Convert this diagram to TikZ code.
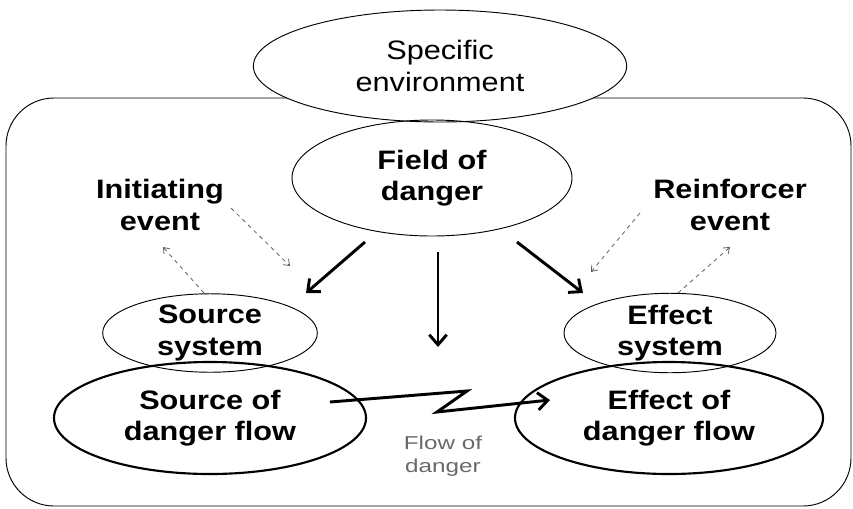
\documentclass[tikz,border=0pt]{standalone}
\usepackage{fontspec}
\setmainfont{Liberation Sans}[FakeStretch=1.15]
\newfontfamily\flowfont{Liberation Sans}[FakeStretch=1.3]
\usetikzlibrary{shapes.geometric, arrows.meta}
\definecolor{dgray}{RGB}{95,95,95}
\definecolor{lgray}{RGB}{105,105,105}

\begin{document}
\begin{tikzpicture}[x=0.75pt,y=-0.75pt,
  font=\fontsize{20}{24}\selectfont,
  env/.style={draw,ellipse,line width=0.7pt,fill=white,inner sep=0pt,align=center},
  sys/.style={draw,ellipse,line width=0.7pt,inner sep=0pt,align=center,
              font=\fontsize{20}{23.5}\selectfont\bfseries},
  flw/.style={draw,ellipse,line width=1.6pt,inner sep=0pt,align=center,
              font=\fontsize{20}{23.5}\selectfont\bfseries},
  evt/.style={align=center,font=\fontsize{20}{24.5}\selectfont\bfseries},
  bigarr/.style={-{Straight Barb[length=7.5pt,width=13pt]},line width=2.2pt},
  dsh/.style={-{Straight Barb[length=4pt,width=6pt]},dashed,line width=0.6pt,color=dgray}
]
  \useasboundingbox (0,0) rectangle (853,508);
  \draw[line width=0.7pt,rounded corners=36pt] (6,98) rectangle (851,506);

  \node[env,minimum width=280pt,minimum height=84pt] (env) at (440,66) {Specific\\environment};
  \node[sys,minimum width=210pt,minimum height=87pt] (field) at (432,178) {Field of\\danger};

  \node[sys,minimum width=161pt,minimum height=56pt] (srcsys) at (210,333) {Source\\system};
  \node[flw,minimum width=234pt,minimum height=84pt] (srcflow) at (210,418) {Source of\\danger flow};
  \node[sys,minimum width=159pt,minimum height=56pt] (effsys) at (670,333) {Effect\\system};
  \node[flw,minimum width=231pt,minimum height=84pt] (effflow) at (669,418) {Effect of\\danger flow};

  \node[evt] (init) at (160,205) {Initiating\\event};
  \node[evt] (reinf) at (730,205) {Reinforcer\\event};
  \node[align=center,color=lgray,font=\flowfont\fontsize{14}{17}\selectfont] (flowlbl) at (443,456) {Flow of\\danger};

  % arrow ends
  \coordinate (l1) at (365,242); \coordinate (l2) at (306,293);
  \coordinate (m1) at (438,252); \coordinate (m2) at (438,347);
  \coordinate (r1) at (517,242); \coordinate (r2) at (583,293);
  \foreach \a/\b in {l1/l2,m1/m2,r1/r2}
    \draw[bigarr] (\a)--(\b);

  \coordinate (d1) at (204,293); \coordinate (d2) at (163,247);
  \coordinate (d3) at (231,208); \coordinate (d4) at (290,266);
  \coordinate (d5) at (640,213); \coordinate (d6) at (591,272);
  \coordinate (d7) at (678,293); \coordinate (d8) at (730,247);
  \foreach \a/\b in {d1/d2,d3/d4,d5/d6,d7/d8}
    \draw[dsh] (\a)--(\b);

  % zigzag flow
  \coordinate (z1) at (467,391);
  \coordinate (z2) at (437,412);
  \draw[bigarr,line join=miter] (srcflow.center) ++(120,-16) -- (z1) -- (z2) -- (550,400);
\end{tikzpicture}
\end{document}
